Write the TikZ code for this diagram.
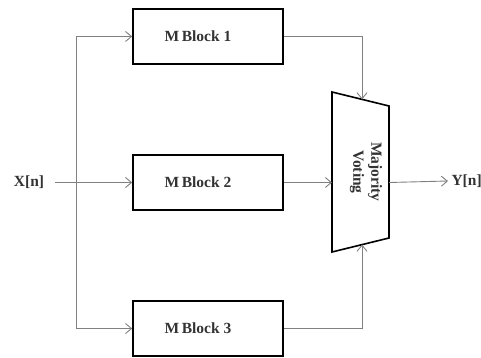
\documentclass[tikz,border=0pt]{standalone}
\usepackage{fontspec}
\setmainfont{Liberation Serif}
\usetikzlibrary{arrows.meta}
\begin{document}
\begin{tikzpicture}[x=1pt,y=-1pt,
  blk/.style={draw=black,line width=1.6pt,minimum width=150pt,minimum height=55pt,inner sep=0pt},
  wire/.style={draw=black!50,line width=0.9pt},
  arr/.style={wire,-{Straight Barb[length=6pt,width=10pt,line width=0.9pt]}},
  lbl/.style={font=\fontsize{15.5}{17}\selectfont\bfseries,text=black!80}]
\useasboundingbox (0,0) rectangle (481,358);

% three processing blocks
\node[blk,label={[lbl,xshift=-10pt]center:M\,Block 1}] (b1) at (208,36.5) {};
\node[blk,label={[lbl,xshift=-10pt]center:M\,Block 2}] (b2) at (208,182.5) {};
\node[blk,label={[lbl,xshift=-10pt]center:M\,Block 3}] (b3) at (208,328.5) {};

% majority voter (trapezoid)
\coordinate (tl) at (332,92);
\coordinate (tr) at (389,106);
\coordinate (br) at (389,238);
\coordinate (bl) at (332,252);
\draw[line width=1.6pt,line join=miter] (tl) -- (tr) -- (br) -- (bl) -- cycle;
\node[lbl,rotate=-90,align=center,font=\fontsize{15.5}{18}\selectfont\bfseries] (mv) at (366,172) {Majority\\Voting};
\coordinate (vin1) at (362,99.4);
\coordinate (vin2) at (332,182.5);
\coordinate (vin3) at (362,244.6);
\coordinate (vout) at (389,182.5);

% input and fan-out
\node[lbl] (x) at (29,182) {X[n]};
\coordinate (xin) at (55,182.5);
\coordinate (split) at (76,182.5);
\draw[arr] (xin) -- (b2.west);
\draw[arr] (split) -- (76,36.5) -- (b1.west);
\draw[arr] (split) -- (76,328.5) -- (b3.west);

% block outputs into the voter
\draw[arr] (b1.east) -- (362,36.5) -- (vin1);
\draw[arr] (b2.east) -- (vin2);
\draw[arr] (b3.east) -- (362,328.5) -- (vin3);

% output
\node[lbl,anchor=west] (y) at (448,181) {Y[n]};
\draw[arr] (vout) -- (y.west);
\end{tikzpicture}
\end{document}
